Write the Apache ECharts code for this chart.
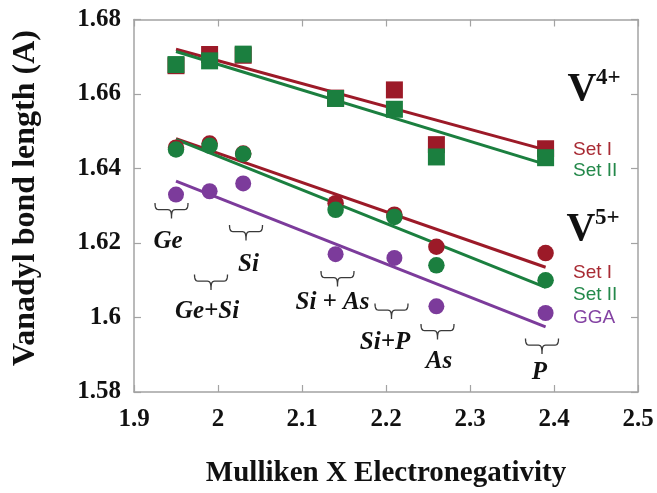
<!DOCTYPE html>
<html>
<head>
<meta charset="utf-8">
<script src="https://cdn.jsdelivr.net/npm/echarts@6/dist/echarts.min.js"></script>
<style>
html,body{margin:0;padding:0;background:#fff;}
#chart{width:657px;height:493px;}
</style>
</head>
<body>
<div id="chart"></div>
<script>
// ---- data ----
const electronegativity = [1.95, 1.99, 2.03, 2.14, 2.21, 2.26, 2.39];
const dopantLabels = ['Ge', 'Ge+Si', 'Si', 'Si + As', 'Si+P', 'As', 'P'];
const v4SetI  = [1.6676, 1.6706, 1.6704, 1.6589, 1.6611, 1.6464, 1.6453];
const v4SetII = [1.6679, 1.6689, 1.6707, 1.6588, 1.6559, 1.6431, 1.6429];
const v5SetI  = [1.6456, 1.6467, 1.6440, 1.6307, 1.6276, 1.6190, 1.6173];
const v5SetII = [1.6451, 1.6461, 1.6439, 1.6289, 1.6270, 1.6140, 1.6100];
const v5GGA   = [1.6330, 1.6339, 1.6360, 1.6170, 1.6160, 1.6030, 1.6012];
const fitX = [1.95, 2.39];
const v4SetIFit  = [1.6720, 1.6450];
const v4SetIIFit = [1.6714, 1.6411];
const v5SetIFit  = [1.6480, 1.6135];
const v5SetIIFit = [1.6478, 1.6081];
const ggaFit     = [1.6366, 1.5975];
const xTicks = {min: 1.9, max: 2.5, interval: 0.1};
const yTicks = {min: 1.58, max: 1.68, interval: 0.02};

// ---- styles ----
const RED = '#9c1a28', GREEN = '#1b7f3f', PURPLE = '#7c3b9b';
const RED_T = '#a82a33', GREEN_T = '#23884a', PURPLE_T = '#8443a3';
const AXIS = '#a3a3a3';
const SERIF = '"Liberation Serif", "Times New Roman", serif';
const SANS = '"Liberation Sans", Arial, sans-serif';

function pairs(xs, ys) { return xs.map((x, i) => [x, ys[i]]); }

function axisBase(t, extra) {
  return Object.assign({
    type: 'value', min: t.min, max: t.max, interval: t.interval,
    axisLine: {show: true, lineStyle: {color: AXIS, width: 1.5}},
    axisTick: {show: true, inside: true, length: 7, lineStyle: {color: AXIS, width: 1.2}},
    splitLine: {show: false},
    axisLabel: {show: false}
  }, extra);
}

const tickFont = {fontFamily: SERIF, fontWeight: 'bold', fontSize: 25, color: '#111'};

function lineSeries(ys, color) {
  return {type: 'line', data: pairs(fitX, ys), symbol: 'none', silent: true,
    lineStyle: {color: color, width: 3}, z: 2, animation: false};
}
function scatter(ys, color, symbol, size, z) {
  return {type: 'scatter', data: pairs(electronegativity, ys), symbol: symbol,
    symbolSize: size, itemStyle: {color: color, opacity: 1}, z: z, animation: false};
}

// annotation layout (pixels)
const braceLayout = [
  {cx: 171.5, top: 203}, {cx: 211, top: 274.5}, {cx: 246, top: 225},
  {cx: 337.5, top: 271}, {cx: 391.5, top: 303.5}, {cx: 437.5, top: 324}, {cx: 542, top: 338.5}
];
const labelLayout = [
  {x: 168, y: 242}, {x: 207, y: 311.5}, {x: 248.5, y: 264.5},
  {x: 332.5, y: 303}, {x: 385, y: 343}, {x: 439, y: 361.5}, {x: 539.5, y: 373}
];

function cubic(p0, p1, p2, p3, n, out) {
  for (let i = 1; i <= n; i++) {
    const t = i / n, u = 1 - t;
    out.push([
      u*u*u*p0[0] + 3*u*u*t*p1[0] + 3*u*t*t*p2[0] + t*t*t*p3[0],
      u*u*u*p0[1] + 3*u*u*t*p1[1] + 3*u*t*t*p2[1] + t*t*t*p3[1]
    ]);
  }
}
function bracePoints(cx, t) {
  const w = 16.5, h = 6.7, tip = 15.5;
  const pts = [[cx - w, t]];
  cubic([cx - w, t], [cx - w, t + h - 1], [cx - w + 1.5, t + h], [cx - w + 4.5, t + h], 8, pts);
  pts.push([cx - 3.5, t + h]);
  cubic([cx - 3.5, t + h], [cx - 1, t + h], [cx, t + h + 1.5], [cx, t + tip], 8, pts);
  cubic([cx, t + tip], [cx, t + h + 1.5], [cx + 1, t + h], [cx + 3.5, t + h], 8, pts);
  pts.push([cx + w - 4.5, t + h]);
  cubic([cx + w - 4.5, t + h], [cx + w - 1.5, t + h], [cx + w, t + h - 1], [cx + w, t], 8, pts);
  return pts;
}

const graphics = [];
braceLayout.forEach(b => {
  graphics.push({type: 'polyline', shape: {points: bracePoints(b.cx, b.top)},
    style: {fill: null, stroke: '#3a3a3a', lineWidth: 1.3}, z: 10});
});
dopantLabels.forEach((t, i) => {
  graphics.push({type: 'text', x: labelLayout[i].x, y: labelLayout[i].y,
    style: {text: t, fill: '#111', font: 'italic bold 25px ' + SERIF, textAlign: 'center', textVerticalAlign: 'middle'}, z: 10});
});
function txt(t, x, y, font, color, align) {
  graphics.push({type: 'text', x: x, y: y,
    style: {text: t, fill: color, font: font, textAlign: align || 'left', textVerticalAlign: 'middle'}, z: 10});
}
txt('V', 582, 89.5, 'bold 40px ' + SERIF, '#111', 'center');
txt('4+', 596, 78, 'bold 23px ' + SERIF, '#111');
txt('V', 581, 229.5, 'bold 40px ' + SERIF, '#111', 'center');
txt('5+', 595, 218.5, 'bold 23px ' + SERIF, '#111');
txt('Set I', 573, 149.5, '19px ' + SANS, RED_T);
txt('Set II', 573, 171, '19px ' + SANS, GREEN_T);
txt('Set I', 573, 273, '19px ' + SANS, RED_T);
txt('Set II', 573, 294.5, '19px ' + SANS, GREEN_T);
txt('GGA', 573, 318, '19px ' + SANS, PURPLE_T);
graphics.push({type: 'text', x: 26, y: 198, rotation: Math.PI / 2,
  style: {text: 'Vanadyl bond length (A)', fill: '#111', font: 'bold 32px ' + SERIF,
    textAlign: 'center', textVerticalAlign: 'middle'}, z: 10});

const chart = echarts.init(document.getElementById('chart'), null, {renderer: 'canvas'});
chart.setOption({
  animation: false,
  backgroundColor: '#fff',
  grid: {left: 134, right: 19, top: 19.5, bottom: 99.5, containLabel: false},
  xAxis: [
    axisBase(xTicks, {position: 'bottom',
      axisLabel: Object.assign({show: true, margin: 15}, tickFont),
      name: 'Mulliken X Electronegativity', nameLocation: 'middle', nameGap: 67,
      nameTextStyle: {fontFamily: SERIF, fontWeight: 'bold', fontSize: 29, color: '#111'}}),
    axisBase(xTicks, {position: 'top'})
  ],
  yAxis: [
    axisBase(yTicks, {position: 'left',
      axisLabel: Object.assign({show: true, margin: 13}, tickFont)}),
    axisBase(yTicks, {position: 'right'})
  ],
  series: [
    lineSeries(v4SetIFit, RED),
    lineSeries(v4SetIIFit, GREEN),
    lineSeries(v5SetIFit, RED),
    lineSeries(v5SetIIFit, GREEN),
    lineSeries(ggaFit, PURPLE),
    scatter(v4SetI, RED, 'rect', 17, 3),
    scatter(v4SetII, GREEN, 'rect', 17, 4),
    scatter(v5SetI, RED, 'circle', 16.5, 3),
    scatter(v5SetII, GREEN, 'circle', 16.5, 4),
    scatter(v5GGA, PURPLE, 'circle', 16, 4)
  ],
  graphic: graphics
});
</script>
</body>
</html>
